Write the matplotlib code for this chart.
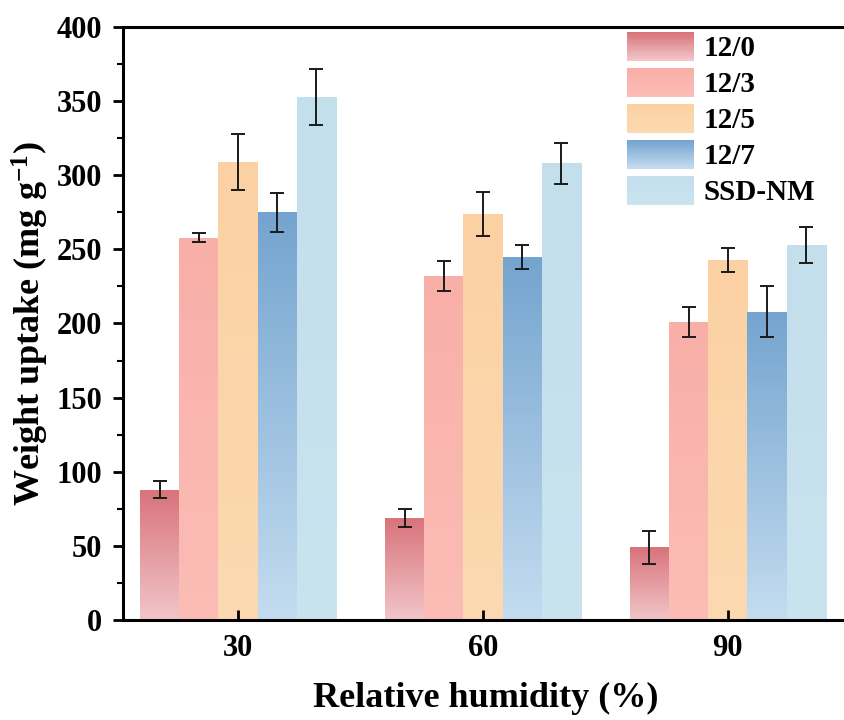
import matplotlib
matplotlib.use("Agg")
import matplotlib.pyplot as plt
import numpy as np
from matplotlib.colors import LinearSegmentedColormap
from matplotlib.legend_handler import HandlerBase
from matplotlib.patches import Rectangle
from matplotlib.ticker import MultipleLocator

plt.rcParams["font.family"] = ["Liberation Serif", "DejaVu Serif"]
plt.rcParams["font.weight"] = "bold"
plt.rcParams["mathtext.fontset"] = "custom"
plt.rcParams["mathtext.rm"] = "Liberation Serif:bold"
plt.rcParams["mathtext.bf"] = "Liberation Serif:bold"
plt.rcParams["mathtext.it"] = "Liberation Serif:bold"

# data
humidity = ["30", "60", "90"]
series = ["12/0", "12/3", "12/5", "12/7", "SSD-NM"]
values = [
    [88, 69, 49],      # 12/0
    [258, 232, 201],   # 12/3
    [309, 274, 243],   # 12/5
    [275, 245, 208],   # 12/7
    [353, 308, 253],   # SSD-NM
]
errors = [
    [6, 6, 11],
    [3, 10, 10],
    [19, 15, 8],
    [13, 8, 17],
    [19, 14, 12],
]

# top / bottom colours of each gradient bar
grad_colors = [
    ("#d8737a", "#f1c6c9"),
    ("#f8afa8", "#fbbdb6"),
    ("#fbd1a3", "#fcd9b1"),
    ("#74a4cf", "#c4dcf0"),
    ("#c3dfeb", "#c9e3ef"),
]

fig = plt.figure(figsize=(8.44, 7.2), dpi=100)
# right spine sits just past the canvas edge, like the cropped original
ax = fig.add_axes([0.1457, 0.1389, 0.86, 0.8236])

x = np.arange(1, len(humidity) + 1)
width = 0.16
offsets = (np.arange(len(series)) - 2) * width

grad = np.linspace(0, 1, 256).reshape(-1, 1)

for i, name in enumerate(series):
    top, bot = grad_colors[i]
    cmap = LinearSegmentedColormap.from_list(name, [bot, top])
    bars = ax.bar(x + offsets[i], values[i], width, color="none",
                  edgecolor="none", label=name)
    # vertical gradient fill, clipped to each bar
    for b in bars:
        x0, y0 = b.get_x(), b.get_y()
        im = ax.imshow(grad, cmap=cmap, aspect="auto", origin="lower",
                       extent=[x0, x0 + b.get_width(), y0, y0 + b.get_height()],
                       zorder=1)
        im.set_clip_path(b)
    ax.errorbar(x + offsets[i], values[i], yerr=errors[i], fmt="none",
                ecolor="#1a1a1a", elinewidth=1.4, capsize=5, capthick=1.4,
                zorder=3)


class GradHandler(HandlerBase):
    def __init__(self, top, bot, n=24):
        super().__init__()
        self.top, self.bot, self.n = top, bot, n

    def create_artists(self, legend, orig_handle, xdescent, ydescent,
                       width, height, fontsize, trans):
        cmap = LinearSegmentedColormap.from_list("g", [self.bot, self.top])
        arts = []
        h = height / self.n
        for k in range(self.n):
            r = Rectangle((-xdescent, -ydescent + k * h), width, h * 1.05,
                          facecolor=cmap(k / (self.n - 1)), edgecolor="none",
                          transform=trans)
            arts.append(r)
        return arts


handles = [Rectangle((0, 0), 1, 1) for _ in series]
hmap = {h: GradHandler(*grad_colors[i]) for i, h in enumerate(handles)}
ax.legend(handles, series, handler_map=hmap, loc="upper right",
          bbox_to_anchor=(0.954, 0.992), frameon=False, fontsize=21,
          handlelength=2.3, handleheight=1.14, handletextpad=0.35,
          labelspacing=0.2, borderaxespad=0, borderpad=0)

ax.set_xlim(0.53, 3.494)
ax.set_ylim(0, 400)
ax.set_xticks(x)
ax.set_xticklabels(humidity)
ax.yaxis.set_major_locator(MultipleLocator(50))
ax.yaxis.set_minor_locator(MultipleLocator(25))

ax.tick_params(axis="x", direction="in", length=7, width=2, labelsize=22,
               pad=10)
ax.tick_params(axis="y", which="major", direction="out", length=7, width=2,
               labelsize=22, pad=8)
ax.tick_params(axis="y", which="minor", direction="out", length=4, width=1.5)
for s in ax.spines.values():
    s.set_linewidth(2.2)

ax.set_xlabel("Relative humidity (%)", fontsize=26, fontweight="bold",
              labelpad=14)
ax.set_ylabel("Weight uptake (mg g$^{-1}$)", fontsize=26,
              fontweight="bold", labelpad=4)

fig.savefig("out.png", dpi=100)
